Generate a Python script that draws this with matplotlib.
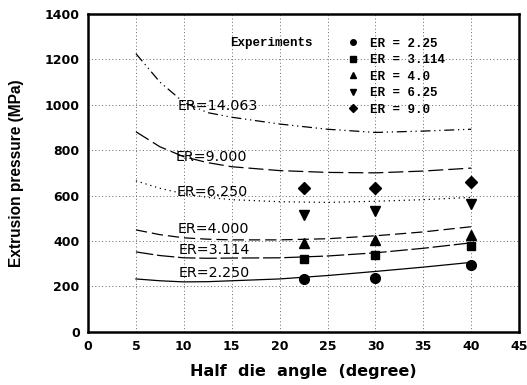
import matplotlib
matplotlib.use("Agg")
import matplotlib.pyplot as plt
from matplotlib.lines import Line2D

# Model curves (half die angle vs extrusion pressure)
angle_curve = [5, 7.5, 10, 12.5, 15, 20, 25, 30, 35, 40]
er14063 = [1225, 1100, 1010, 965, 945, 915, 892, 878, 884, 892]
er9000 = [881, 815, 771, 745, 727, 710, 702, 700, 708, 721]
er6250 = [665, 632, 608, 592, 582, 573, 570, 575, 582, 592]
er4000 = [449, 428, 414, 408, 405, 405, 410, 423, 440, 463]
er3114 = [352, 336, 326, 324, 325, 326, 334, 348, 368, 392]
er2250 = [233, 225, 220, 221, 225, 233, 248, 266, 285, 306]

curve_labels = ["ER=14.063", "ER=9.000", "ER=6.250", "ER=4.000", "ER=3.114", "ER=2.250"]

# Experiments
angle_exp = [22.5, 30, 40]
exp_225 = [233, 238, 295]
exp_3114 = [321, 339, 379]
exp_40 = [392, 405, 427]
exp_625 = [515, 533, 564]
exp_90 = [634, 634, 661]
exp_labels = ["ER = 2.25", "ER = 3.114", "ER = 4.0", "ER = 6.25", "ER = 9.0"]

xticks = [0, 5, 10, 15, 20, 25, 30, 35, 40, 45]
yticks = [0, 200, 400, 600, 800, 1000, 1200, 1400]

plt.rcParams['font.family'] = ['DejaVu Sans']

fig = plt.figure(figsize=(5.27, 3.85), dpi=100)
ax = fig.add_axes([0.167, 0.138, 0.818, 0.826])

lw = 0.9
ax.plot(angle_curve, er14063, color='black', lw=lw, linestyle=(0, (8, 3, 1, 3, 1, 3)))
ax.plot(angle_curve, er9000, color='black', lw=lw, linestyle=(0, (12, 4)))
ax.plot(angle_curve, er6250, color='black', lw=lw, linestyle=(0, (1, 3)))
ax.plot(angle_curve, er4000, color='black', lw=lw, linestyle=(0, (9, 4)))
ax.plot(angle_curve, er3114, color='black', lw=lw, linestyle=(0, (14, 3)))
ax.plot(angle_curve, er2250, color='black', lw=lw, linestyle='-')

ms = 7
ax.plot(angle_exp, exp_225, 'o', color='black', ms=ms, linestyle='none')
ax.plot(angle_exp, exp_3114, 's', color='black', ms=ms - 1, linestyle='none')
ax.plot(angle_exp, exp_40, '^', color='black', ms=ms, linestyle='none')
ax.plot(angle_exp, exp_625, 'v', color='black', ms=ms, linestyle='none')
ax.plot(angle_exp, exp_90, 'D', color='black', ms=ms - 1, linestyle='none')

# curve labels
label_pos = [(9.35, 995), (9.1, 770), (9.25, 616), (9.35, 453), (9.5, 361), (9.5, 260)]
for txt, (x, y) in zip(curve_labels, label_pos):
    ax.text(x, y, txt, fontsize=10.3, ha='left', va='center', color='black')

# legend
leg_handles = [Line2D([], [], marker=m, color='black', linestyle='none', ms=4)
               for m in ['o', 's', '^', 'v', 'D']]
ax.legend(leg_handles, exp_labels, loc='center left', bbox_to_anchor=(0.574, 0.802),
          frameon=False, handletextpad=0.9, labelspacing=0.36, handlelength=1.0,
          prop={'family': 'Liberation Mono', 'size': 9, 'weight': 'bold'})
ax.text(0.329, 0.909, 'Experiments', transform=ax.transAxes, fontsize=9,
        family='Liberation Mono', weight='bold', va='center', ha='left')

ax.set_xlim(0, 45)
ax.set_ylim(0, 1400)
ax.set_xticks(xticks)
ax.set_yticks(yticks)
ax.tick_params(axis='both', length=0, labelsize=9, pad=6)
for lab in ax.get_xticklabels() + ax.get_yticklabels():
    lab.set_fontweight('bold')

ax.grid(True, linestyle=(0, (1, 2.5)), color='#666666', lw=0.7)
for s in ax.spines.values():
    s.set_linewidth(1.8)

ax.set_xlabel('Half  die  angle  (degree)', fontsize=11.5, fontweight='bold', labelpad=8)
ax.set_ylabel('Extrusion pressure (MPa)', fontsize=11.2, fontweight='bold', labelpad=15,
              family='Liberation Sans')

fig.savefig('out.png', dpi=100)
